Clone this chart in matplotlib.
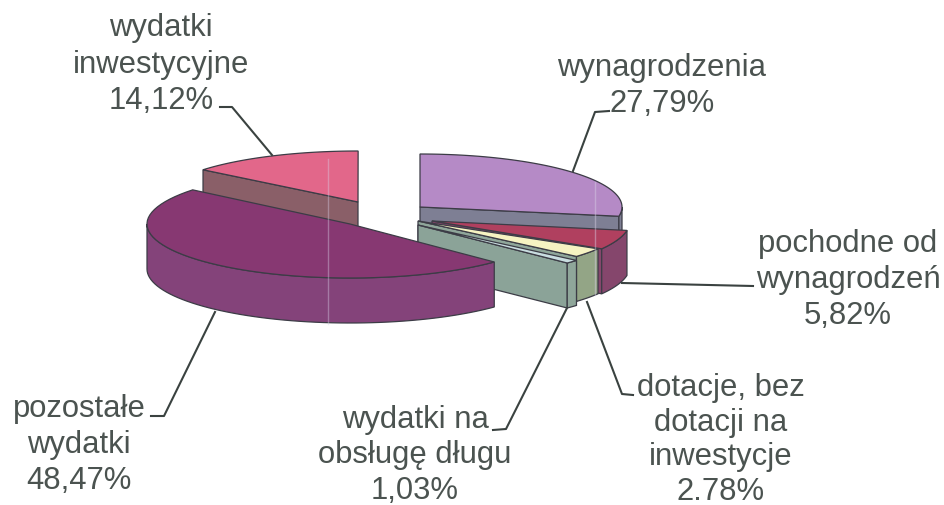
import numpy as np
import matplotlib
matplotlib.use('Agg')
import matplotlib.pyplot as plt
from matplotlib.patches import Polygon

names = ['wynagrodzenia', 'pochodne od\nwynagrodzeń', 'dotacje, bez\ndotacji na\ninwestycje',
         'wydatki na\nobsługę długu', 'pozostałe\nwydatki', 'wydatki\ninwestycyjne']
shares = [27.79, 5.82, 2.78, 1.03, 48.47, 14.12]
share_text = ['27,79%', '5,82%', '2.78%', '1,03%', '48,47%', '14,12%']

plt.rcParams['font.family'] = ['Liberation Sans', 'DejaVu Sans']

# apex x, apex y, rx, ry of every slice top in pixels
slices = [(420, 208, 202, 53), (432, 222, 198, 54), (418, 222, 210, 54),
          (418, 226, 210, 54), (350, 225, 203, 54), (358, 203, 200, 51)]
top_col = ['#b58ac6', '#b0405f', '#f6f3c2', '#c9dde0', '#873872', '#e2678a']
rim_col = ['#7e7f94', '#85466c', '#93a586', '#8fa69a', '#84437a', '#8a5f68']
cut_col = ['#7e7f94', '#85466c', '#8fa69a', '#8ba398', '#84437a', '#8a5f68']
order = [5, 0, 1, 2, 3, 4]
depth = 45
edge = '#3c3c46'
ink = '#4b5350'

fig = plt.figure(figsize=(9.45, 5.06), dpi=100)
ax = fig.add_axes([0, 0, 1, 1])
ax.set_xlim(0, 945)
ax.set_ylim(506, 0)
ax.axis('off')

ends = np.cumsum(shares) * 3.6
starts = ends - np.array(shares) * 3.6


def rim(i, a, b):
    x0, y0, rx, ry = slices[i]
    t = np.radians(np.linspace(a, b, 60))
    return np.column_stack([x0 + rx * np.sin(t), y0 - ry * np.cos(t)])


def draw(points, col, z):
    ax.add_patch(Polygon(points, closed=True, facecolor=col, edgecolor=edge, lw=0.9, zorder=z))


for z, i in enumerate(order):
    a, b = starts[i], ends[i]
    apex = np.array(slices[i][:2], dtype=float)
    down = np.array([0, depth])
    # cut faces turned to the viewer
    if b < 180:
        p = rim(i, b, b)[0]
        draw([apex, p, p + down, apex + down], cut_col[i], z * 3 + 1)
    if a > 180:
        p = rim(i, a, a)[0]
        draw([apex, p, p + down, apex + down], cut_col[i], z * 3 + 1)
    # outer wall, front half only
    lo, hi = max(a, 90), min(b, 270)
    if lo < hi:
        r = rim(i, lo, hi)
        draw(np.vstack([r, (r + down)[::-1]]), rim_col[i], z * 3 + 2)
    draw(np.vstack([apex, rim(i, a, b)]), top_col[i], z * 3 + 3)

# pale scan folds
ax.plot([595, 595], [183, 296], color='#d8cfe6', lw=1, alpha=0.45, zorder=40)
ax.plot([328, 328], [160, 325], color='#d8cfe6', lw=1, alpha=0.4, zorder=40)

leaders = [[(573, 172), (595, 113), (609, 112)],
           [(622, 284), (753, 287)],
           [(587, 303), (622, 395), (633, 396)],
           [(567, 309), (506, 430), (493, 431)],
           [(215, 313), (164, 417), (151, 417)],
           [(272, 156), (232, 108), (220, 108)]]
for line in leaders:
    xy = np.array(line)
    ax.plot(xy[:, 0], xy[:, 1], color='#3a4240', lw=1.5, zorder=50)

# centre x, first baseline and line gap of every label
label_pos = [(662, 76, 36), (848, 252, 36), (721, 396, 34.7), (415, 428, 35.5), (79, 417, 36), (161, 36, 36.5)]
for i, (x, y, gap) in enumerate(label_pos):
    lines = (names[i] + '\n' + share_text[i]).split('\n')
    for k, s in enumerate(lines):
        ax.text(x, y + k * gap, s, ha='center', va='baseline', fontsize=22.3, color=ink, zorder=60)

plt.savefig('out.png', dpi=100)
